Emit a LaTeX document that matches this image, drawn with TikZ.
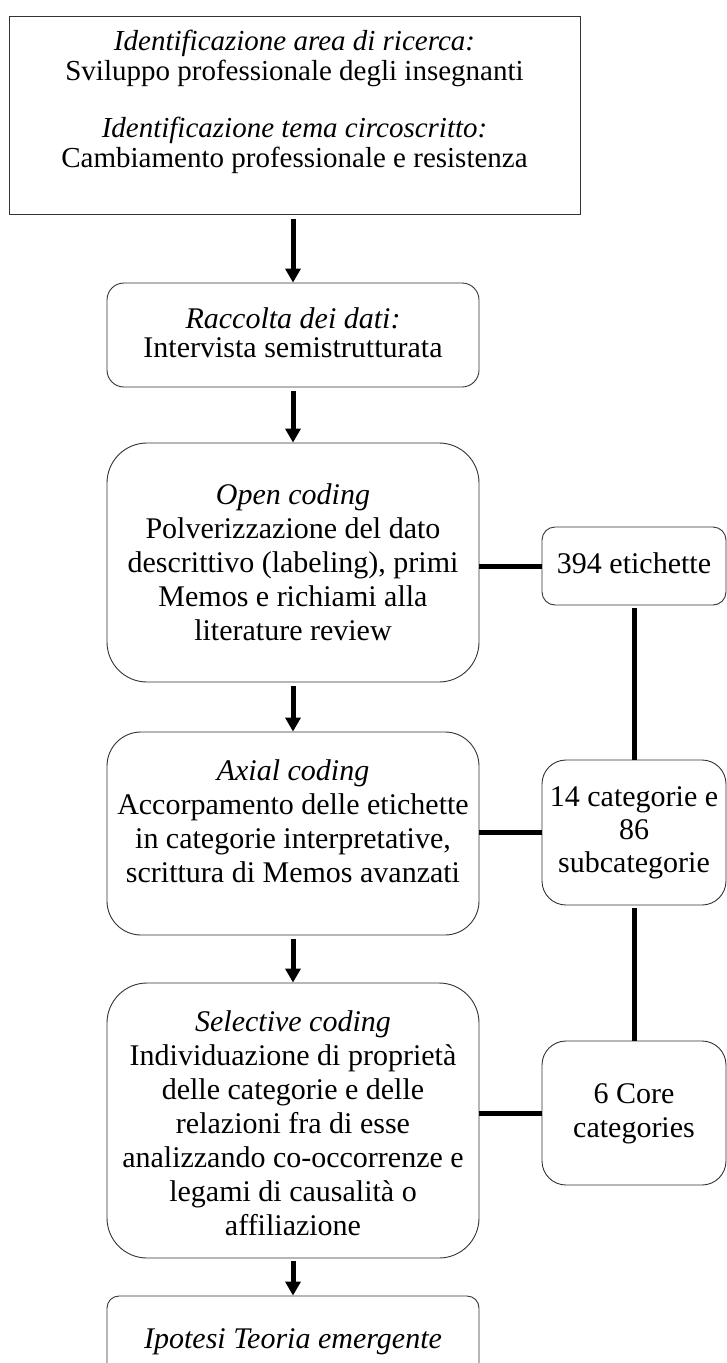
\documentclass[tikz,border=0pt]{standalone}
\usepackage{fontspec}
\setmainfont{Liberation Serif}
\usetikzlibrary{arrows.meta}
\begin{document}
\begin{tikzpicture}[x=1pt,y=-1pt,
  box/.style={draw=black!80, line width=0.9pt, inner sep=0pt},
  txt/.style={align=center, anchor=base, inner sep=0pt},
  body/.style={font=\fontsize{30}{34}\selectfont},
  flow/.style={line width=5pt, -{Triangle[width=15pt,length=14pt]}},
  link/.style={line width=5pt}]
\useasboundingbox (0,0) rectangle (727,1363);

% main column of process boxes
\node[box, minimum width=571pt, minimum height=198pt] (area) at (294.5,115) {};
\node[box, rounded corners=17pt, minimum width=372pt, minimum height=104pt] (raccolta) at (293,335) {};
\node[box, rounded corners=40pt, minimum width=372pt, minimum height=239pt] (open) at (293,562.5) {};
\node[box, rounded corners=34pt, minimum width=372pt, minimum height=203pt] (axial) at (293,833.5) {};
\node[box, rounded corners=40pt, minimum width=372pt, minimum height=275pt] (selective) at (293,1120.5) {};
\node[box, rounded corners=12pt, minimum width=372pt, minimum height=124pt] (ipotesi) at (293,1358) {};

% side column of results
\node[box, rounded corners=13pt, minimum width=184pt, minimum height=78pt] (etichette) at (634,566) {};
\node[box, rounded corners=24pt, minimum width=184pt, minimum height=145pt] (categorie) at (634,832.5) {};
\node[box, rounded corners=24pt, minimum width=184pt, minimum height=144pt] (core) at (634,1113) {};

% texts (each node sits on the baseline of its last line)
\node[txt, font=\fontsize{29}{30}\selectfont] (t-area) at (294.5,167)
  {\textit{Identificazione area di ricerca:}\\
   Sviluppo professionale degli insegnanti\\[27pt]
   \textit{Identificazione tema circoscritto:}\\
   Cambiamento professionale e resistenza};
\node[txt, font=\fontsize{30}{29}\selectfont] (t-raccolta) at (293,357)
  {\textit{Raccolta dei dati:}\\ Intervista semistrutturata};
\node[txt, body] (t-open) at (293,640)
  {\textit{Open coding}\\ Polverizzazione del dato\\ descrittivo (labeling), primi\\
   Memos e richiami alla\\ literature review};
\node[txt, body] (t-axial) at (293,882)
  {\textit{Axial coding}\\ Accorpamento delle etichette\\ in categorie interpretative,\\
   scrittura di Memos avanzati};
\node[txt, body] (t-selective) at (293,1235)
  {\textit{Selective coding}\\ Individuazione di proprietà\\ delle categorie e delle\\
   relazioni fra di esse\\ analizzando co-occorrenze e\\ legami di causalità o\\ affiliazione};
\node[txt, body] (t-ipotesi) at (293,1348) {\textit{Ipotesi Teoria emergente}};
\node[txt, body] (t-etichette) at (634,573) {394 etichette};
\node[txt, font=\fontsize{30}{33}\selectfont] (t-categorie) at (634,872)
  {14 categorie e\\ 86\\ subcategorie};
\node[txt, body] (t-core) at (634,1137) {6 Core\\ categories};

% flow arrows
\draw[flow] ([yshift=-5pt]area.south -| raccolta.north) -- (raccolta.north);
\draw[flow] ([yshift=-4pt]raccolta.south) -- (open.north);
\draw[flow] ([yshift=-4pt]open.south) -- (axial.north);
\draw[flow] ([yshift=-4pt]axial.south) -- (selective.north);
\draw[flow] ([yshift=-3pt]selective.south) -- (ipotesi.north);

% links to results
\draw[link] (etichette.west -| open.east) -- (etichette.west);
\draw[link] (categorie.west -| axial.east) -- (categorie.west);
\draw[link] (core.west -| selective.east) -- (core.west);
\draw[link] ([yshift=-3pt]etichette.south) -- (categorie.north);
\draw[link] ([yshift=-3pt]categorie.south) -- (core.north);
\end{tikzpicture}
\end{document}
